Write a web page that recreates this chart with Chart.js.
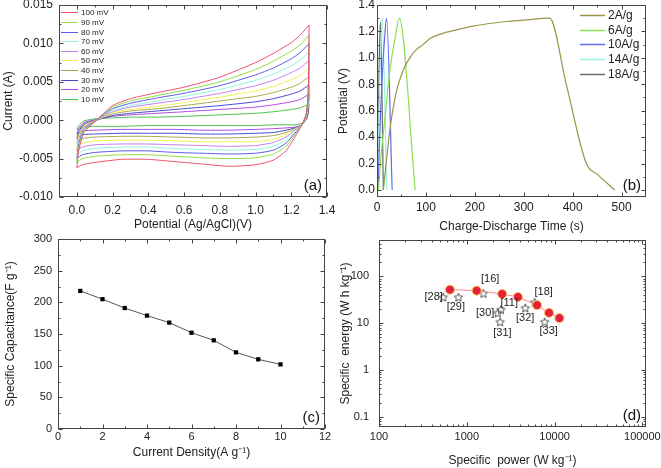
<!DOCTYPE html>
<html>
<head>
<meta charset="utf-8">
<script src="https://cdn.jsdelivr.net/npm/chart.js@4.4.1/dist/chart.umd.min.js"></script>
<style>
html, body { margin: 0; padding: 0; background: #fff; }
#wrap { position: relative; width: 661px; height: 468px; overflow: hidden; }
canvas { position: absolute; }
</style>
</head>
<body>
<div id="wrap">
  <canvas id="cvChart" width="340" height="234" style="left:0;top:0"></canvas>
  <canvas id="gcdChart" width="331" height="234" style="left:330px;top:0"></canvas>
  <canvas id="capChart" width="340" height="234" style="left:0;top:234px"></canvas>
  <canvas id="ragoneChart" width="331" height="234" style="left:330px;top:234px"></canvas>
</div>
<script>
// ---- (a) cyclic voltammetry ----
const SCAN_RATES = ['100 mV', '90 mV', '80 mV', '70 mV', '60 mV', '50 mV', '40 mV', '30 mV', '20 mV', '10 mV'];
const SCAN_COLORS = ['#f0506e', '#8fe040', '#5a5ae6', '#8ff5e0', '#c47cf0', '#f2f050', '#a8a848', '#4848d0', '#b048e0', '#48c048'];
const CV_UP_V = [0, 0.01, 0.04, 0.11, 0.2, 0.3, 0.45, 0.6, 0.8, 1.0, 1.1, 1.2, 1.25, 1.3];
const CV_DOWN_V = [1.3, 1.295, 1.285, 1.26, 1.22, 1.17, 1.1, 1.0, 0.85, 0.7, 0.55, 0.4, 0.25, 0.1, 0.03, 0];
const CV_UP = [
  [-0.0062, -0.0040, -0.0016, 0.0000, 0.0019, 0.0028, 0.0036, 0.0043, 0.0056, 0.0075, 0.0087, 0.0101, 0.0111, 0.0124],
  [-0.0055, -0.0036, -0.0014, 0.0000, 0.0017, 0.0025, 0.0032, 0.0039, 0.0050, 0.0066, 0.0077, 0.0090, 0.0098, 0.0111],
  [-0.0050, -0.0032, -0.0012, 0.0000, 0.0015, 0.0022, 0.0029, 0.0035, 0.0045, 0.0059, 0.0068, 0.0080, 0.0088, 0.0100],
  [-0.0045, -0.0029, -0.0011, 0.0000, 0.0013, 0.0019, 0.0025, 0.0031, 0.0040, 0.0052, 0.0060, 0.0071, 0.0078, 0.0089],
  [-0.0040, -0.0026, -0.0009, 0.0000, 0.0011, 0.0017, 0.0022, 0.0027, 0.0035, 0.0045, 0.0052, 0.0062, 0.0068, 0.0078],
  [-0.0034, -0.0022, -0.0008, 0.0000, 0.0010, 0.0014, 0.0018, 0.0023, 0.0030, 0.0038, 0.0044, 0.0053, 0.0058, 0.0068],
  [-0.0029, -0.0019, -0.0006, 0.0000, 0.0008, 0.0012, 0.0015, 0.0019, 0.0025, 0.0031, 0.0036, 0.0043, 0.0048, 0.0057],
  [-0.0024, -0.0015, -0.0005, 0.0000, 0.0006, 0.0009, 0.0012, 0.0015, 0.0019, 0.0024, 0.0028, 0.0034, 0.0038, 0.0046],
  [-0.0018, -0.0011, -0.0003, 0.0001, 0.0005, 0.0007, 0.0009, 0.0011, 0.0014, 0.0017, 0.0020, 0.0024, 0.0027, 0.0034],
  [-0.0012, -0.0007, -0.0001, 0.0002, 0.0003, 0.0004, 0.0004, 0.0005, 0.0007, 0.0009, 0.0011, 0.0014, 0.0016, 0.0021]
];
const CV_DOWN = [
  [0.0124, 0.0040, 0.0010, -0.0006, -0.0022, -0.0040, -0.0052, -0.0058, -0.0060, -0.0057, -0.0054, -0.0051, -0.0051, -0.0055, -0.0058, -0.0062],
  [0.0111, 0.0036, 0.0009, -0.0006, -0.0019, -0.0034, -0.0044, -0.0049, -0.0050, -0.0049, -0.0047, -0.0045, -0.0045, -0.0047, -0.0050, -0.0055],
  [0.0100, 0.0032, 0.0008, -0.0006, -0.0017, -0.0030, -0.0039, -0.0043, -0.0044, -0.0043, -0.0042, -0.0040, -0.0040, -0.0042, -0.0045, -0.0050],
  [0.0089, 0.0029, 0.0007, -0.0006, -0.0015, -0.0026, -0.0034, -0.0038, -0.0039, -0.0038, -0.0037, -0.0035, -0.0035, -0.0037, -0.0040, -0.0045],
  [0.0078, 0.0026, 0.0006, -0.0006, -0.0013, -0.0022, -0.0029, -0.0033, -0.0034, -0.0033, -0.0032, -0.0031, -0.0031, -0.0032, -0.0035, -0.0040],
  [0.0068, 0.0022, 0.0005, -0.0006, -0.0012, -0.0019, -0.0025, -0.0028, -0.0028, -0.0028, -0.0027, -0.0026, -0.0026, -0.0027, -0.0030, -0.0034],
  [0.0057, 0.0019, 0.0004, -0.0006, -0.0011, -0.0016, -0.0020, -0.0022, -0.0023, -0.0023, -0.0022, -0.0021, -0.0021, -0.0022, -0.0024, -0.0029],
  [0.0046, 0.0015, 0.0003, -0.0006, -0.0010, -0.0013, -0.0016, -0.0017, -0.0018, -0.0018, -0.0017, -0.0017, -0.0017, -0.0018, -0.0019, -0.0024],
  [0.0034, 0.0011, 0.0002, -0.0006, -0.0009, -0.0010, -0.0011, -0.0012, -0.0013, -0.0013, -0.0012, -0.0012, -0.0012, -0.0013, -0.0014, -0.0018],
  [0.0021, 0.0008, 0.0001, -0.0004, -0.0006, -0.0006, -0.0006, -0.0007, -0.0007, -0.0007, -0.0007, -0.0007, -0.0008, -0.0008, -0.0009, -0.0012]
];
const CV_X_TICKS = [0, 0.2, 0.4, 0.6, 0.8, 1.0, 1.2, 1.4];
const CV_Y_TICKS = [-0.010, -0.005, 0.000, 0.005, 0.010, 0.015];

// ---- (b) charge-discharge ----
const GCD_NAMES = ['2A/g', '6A/g', '10A/g', '14A/g', '18A/g'];
const GCD_COLORS = ['#9c9648', '#8ce050', '#6a6af0', '#98f2e4', '#6a6a6a'];
const GCD_T = [
  [13, 20, 28, 35, 42, 55, 67, 80, 94, 110, 130, 160, 196, 230, 264, 300, 353, 387, 428, 450, 486],
  [3, 8, 15, 23, 30, 37, 45.5, 78],
  [2, 5, 8, 12, 16, 19.5, 31],
  [1, 3, 5, 7.5, 10.5, 20],
  [0.5, 2, 3.5, 5, 7, 13]
];
const GCD_V = [
  [0, 0.25, 0.5, 0.66, 0.78, 0.92, 1.0, 1.06, 1.1, 1.15, 1.18, 1.21, 1.24, 1.26, 1.275, 1.285, 1.3, 0.8, 0.2, 0.12, 0],
  [0, 0.25, 0.5, 0.8, 1.0, 1.15, 1.3, 0],
  [0, 0.35, 0.65, 0.95, 1.17, 1.3, 0],
  [0, 0.4, 0.75, 1.05, 1.3, 0],
  [0, 0.4, 0.75, 1.05, 1.27, 0]
];
const GCD_X_TICKS = [0, 100, 200, 300, 400, 500];
const GCD_Y_TICKS = [0, 0.2, 0.4, 0.6, 0.8, 1.0, 1.2, 1.4];

// ---- (c) specific capacitance ----
const CD_DENSITY = [1, 2, 3, 4, 5, 6, 7, 8, 9, 10];
const CD_CAPACITANCE = [218, 205, 191, 179, 168, 152, 140, 121, 110, 102];
const CD_X_TICKS = [0, 2, 4, 6, 8, 10, 12];
const CD_Y_TICKS = [0, 50, 100, 150, 200, 250, 300];

// ---- (d) Ragone plot ----
const THIS_POWER = [643, 1297, 2531, 3820, 6310, 8650, 11350];
const THIS_ENERGY = [52, 49.5, 42, 36.3, 24.2, 16.6, 12.8];
const REF_POWER = [540, 802, 1549, 2255, 2455, 2400, 4640, 5930, 7710];
const REF_ENERGY = [36, 36, 43.5, 16.6, 19.5, 10.7, 21.2, 28, 10.7];
const REF_TAGS = ['[28]', '[29]', '[16]', '[30]', '[31]', '[11]', '[32]', '[18]', '[33]'];
const REF_TAG_POWER = [420, 750, 1846, 1620, 2550, 3040, 4630, 7510, 8570];
const REF_TAG_ENERGY = [36.3, 21.9, 87.8, 16.1, 6.2, 27.1, 13.0, 45.7, 6.8];
const RAG_X_TICKS = [100, 1000, 10000, 100000];
const RAG_Y_TICKS = [0.1, 1, 10, 100];

Chart.defaults.font.family = '"Liberation Sans", Arial, sans-serif';
Chart.defaults.color = '#222';
Chart.defaults.animation = false;
Chart.defaults.events = [];
Chart.defaults.plugins.legend.display = false;
Chart.defaults.plugins.tooltip.enabled = false;

// frame, inward ticks, panel letter, inside legend, text tags
const panelDecor = {
  id: 'panelDecor',
  afterDraw(chart, args, opts) {
    const { ctx, chartArea: a } = chart;
    ctx.save();
    ctx.strokeStyle = '#444';
    ctx.lineWidth = 1;
    const L = Math.round(a.left) + 0.5, T = Math.round(a.top) + 0.5;
    const R = Math.round(a.right) - 0.5, B = Math.round(a.bottom) - 0.5;
    ctx.strokeRect(L, T, R - L, B - T);

    const seg = (x1, y1, x2, y2) => { ctx.beginPath(); ctx.moveTo(x1, y1); ctx.lineTo(x2, y2); ctx.stroke(); };
    const mark = (s, v, len) => {
      const p = Math.round(s.getPixelForValue(v)) + 0.5;
      if (s.isHorizontal()) {
        if (p < L - 1 || p > R + 1) return;
        seg(p, B, p, B - len); seg(p, T, p, T + len);
      } else {
        if (p < T - 1 || p > B + 1) return;
        seg(L, p, L + len, p); seg(R, p, R - len, p);
      }
    };
    [chart.scales.x, chart.scales.y].forEach(s => {
      const vals = s.ticks.map(t => t.value);
      vals.forEach(v => mark(s, v, 4));
      if (s.type === 'logarithmic') {
        for (let e = Math.floor(Math.log10(s.min)); e <= Math.ceil(Math.log10(s.max)); e++) {
          for (let m = 2; m <= 9; m++) {
            const v = m * Math.pow(10, e);
            if (v > s.min && v < s.max) mark(s, v, 2);
          }
        }
      } else {
        const step = vals[1] - vals[0];
        for (let v = vals[0] - step / 2; v < s.max; v += step) {
          if (v > s.min) mark(s, v, 2);
        }
      }
    });

    if (opts.letter) {
      ctx.fillStyle = '#111';
      ctx.font = '15px "Liberation Sans", Arial, sans-serif';
      ctx.textAlign = 'right';
      ctx.textBaseline = 'alphabetic';
      ctx.fillText(opts.letter, a.right - 5, a.bottom - 7);
    }

    const lg = opts.legend;
    if (lg) {
      ctx.font = lg.size + 'px "Liberation Sans", Arial, sans-serif';
      ctx.textAlign = 'left';
      ctx.textBaseline = 'middle';
      const x0 = lg.fromRight ? a.right - lg.dx : a.left + lg.dx;
      chart.data.datasets.forEach((d, i) => {
        if (!d.label) return;
        const y = Math.round(a.top + lg.dy + i * lg.row) + 0.5;
        ctx.strokeStyle = d.borderColor;
        ctx.lineWidth = lg.width;
        seg(x0, y, x0 + lg.len, y);
        ctx.fillStyle = '#222';
        ctx.fillText(d.label, x0 + lg.len + lg.gap, y);
      });
    }

    const tg = opts.tags;
    if (tg) {
      ctx.font = '11px "Liberation Sans", Arial, sans-serif';
      ctx.fillStyle = '#222';
      ctx.textAlign = 'center';
      ctx.textBaseline = 'middle';
      tg.text.forEach((t, i) => {
        ctx.fillText(t, chart.scales.x.getPixelForValue(tg.x[i]), chart.scales.y.getPixelForValue(tg.y[i]));
      });
    }
    ctx.restore();
  }
};

function axis(o) {
  return {
    type: o.type || 'linear',
    position: o.position,
    min: o.min,
    max: o.max,
    bounds: 'data',
    grid: { display: false, drawTicks: false },
    border: { display: false },
    ticks: {
      padding: o.pad,
      font: { size: o.font },
      color: '#222',
      autoSkip: false,
      maxRotation: 0,
      callback: o.fmt
    },
    title: { display: true, text: o.title, font: { size: 12 }, color: '#222', padding: o.titlePad },
    afterBuildTicks: s => { s.ticks = o.ticks.map(v => ({ value: v })); },
    afterFit: s => {
      if (s.isHorizontal()) s.height = o.size; else s.width = o.size;
      s.paddingTop = 0; s.paddingBottom = 0; s.paddingLeft = 0; s.paddingRight = 0;
    }
  };
}

function baseOptions(padRight, scales, decor) {
  return {
    responsive: false,
    maintainAspectRatio: false,
    layout: { padding: { left: 0, top: 5, right: padRight, bottom: 0 } },
    scales: scales,
    plugins: { panelDecor: decor }
  };
}

// (a)
new Chart(document.getElementById('cvChart'), {
  type: 'scatter',
  data: {
    datasets: SCAN_RATES.map((name, i) => ({
      label: name,
      data: CV_UP_V.map((v, k) => ({ x: v, y: CV_UP[i][k] }))
        .concat(CV_DOWN_V.map((v, k) => ({ x: v, y: CV_DOWN[i][k] }))),
      showLine: true,
      borderColor: SCAN_COLORS[i],
      borderWidth: 1,
      pointRadius: 0,
      tension: 0.2
    }))
  },
  options: baseOptions(13, {
    x: axis({ position: 'bottom', min: -0.1, max: 1.4, ticks: CV_X_TICKS, fmt: v => v.toFixed(1),
      title: 'Potential (Ag/AgCl)(V)', pad: 6, font: 12, size: 37, titlePad: { top: 0, bottom: 2 } }),
    y: axis({ position: 'left', min: -0.010, max: 0.015, ticks: CV_Y_TICKS, fmt: v => v.toFixed(3),
      title: 'Current (A)', pad: 6, font: 12, size: 59, titlePad: { top: 1, bottom: 0 } })
  }, {
    letter: '(a)',
    legend: { dx: 2, dy: 7.3, row: 9.63, len: 17, gap: 3, size: 8, width: 1 }
  }),
  plugins: [panelDecor]
});

// (b)
new Chart(document.getElementById('gcdChart'), {
  type: 'scatter',
  data: {
    datasets: GCD_NAMES.map((name, i) => ({
      label: name,
      data: GCD_T[i].map((t, k) => ({ x: t, y: GCD_V[i][k] })),
      showLine: true,
      borderColor: GCD_COLORS[i],
      borderWidth: 1.2,
      pointRadius: 0,
      cubicInterpolationMode: 'monotone'
    }))
  },
  options: baseOptions(15, {
    x: axis({ position: 'bottom', min: 0, max: 550, ticks: GCD_X_TICKS, fmt: v => String(v),
      title: 'Charge-Discharge Time (s)', pad: 3, font: 12, size: 37, titlePad: { top: 0, bottom: 0 } }),
    y: axis({ position: 'left', min: -0.053, max: 1.4, ticks: GCD_Y_TICKS, fmt: v => v.toFixed(1),
      title: 'Potential (V)', pad: 2, font: 12, size: 47, titlePad: { top: 6, bottom: 0 } })
  }, {
    letter: '(b)',
    legend: { fromRight: true, dx: 66, dy: 10, row: 14.7, len: 25, gap: 3, size: 12, width: 1.5 }
  }),
  plugins: [panelDecor]
});

// (c)
new Chart(document.getElementById('capChart'), {
  type: 'scatter',
  data: {
    datasets: [{
      data: CD_DENSITY.map((x, k) => ({ x: x, y: CD_CAPACITANCE[k] })),
      showLine: true,
      borderColor: '#555',
      borderWidth: 1,
      pointStyle: 'rect',
      pointRadius: 3,
      pointBackgroundColor: '#000',
      pointBorderColor: '#000',
      pointBorderWidth: 0
    }]
  },
  options: baseOptions(15, {
    x: axis({ position: 'bottom', min: 0, max: 12, ticks: CD_X_TICKS, fmt: v => String(v),
      title: 'Current Density(A g\u207B\u00B9)', pad: 1, font: 11, size: 39, titlePad: { top: 0, bottom: 8 } }),
    y: axis({ position: 'left', min: 0, max: 300, ticks: CD_Y_TICKS, fmt: v => String(v),
      title: 'Specific Capacitance(F g\u207B\u00B9)', pad: 6, font: 11, size: 58, titlePad: { top: 3, bottom: 0 } })
  }, { letter: '(c)' }),
  plugins: [panelDecor]
});

// (d)
function starImage(r) {
  const c = document.createElement('canvas');
  const s = Math.ceil(r * 2 + 3);
  c.width = s; c.height = s;
  const g = c.getContext('2d');
  g.strokeStyle = '#555';
  g.lineWidth = 1;
  g.beginPath();
  for (let i = 0; i < 10; i++) {
    const rr = i % 2 ? r * 0.45 : r;
    const ang = -Math.PI / 2 + i * Math.PI / 5;
    const px = s / 2 + rr * Math.cos(ang), py = s / 2 + 0.5 + rr * Math.sin(ang);
    if (i) g.lineTo(px, py); else g.moveTo(px, py);
  }
  g.closePath();
  g.stroke();
  return c;
}

new Chart(document.getElementById('ragoneChart'), {
  type: 'scatter',
  data: {
    datasets: [{
      data: THIS_POWER.map((p, k) => ({ x: p, y: THIS_ENERGY[k] })),
      showLine: true,
      borderColor: '#f38a98',
      borderWidth: 1,
      pointRadius: 4.5,
      pointBackgroundColor: '#e4203c',
      pointBorderColor: '#f3c24a',
      pointBorderWidth: 1
    }, {
      data: REF_POWER.map((p, k) => ({ x: p, y: REF_ENERGY[k] })),
      showLine: false,
      pointStyle: starImage(4.5),
      pointRadius: 5
    }]
  },
  options: baseOptions(15, {
    x: axis({ type: 'logarithmic', position: 'bottom', min: 100, max: 110000, ticks: RAG_X_TICKS, fmt: v => String(v),
      title: 'Specific  power (W kg\u207B\u00B9)', pad: 3, font: 11, size: 41, titlePad: { top: 0, bottom: 0 } }),
    y: axis({ type: 'logarithmic', position: 'left', min: 0.06, max: 600, ticks: RAG_Y_TICKS, fmt: v => String(v),
      title: 'Specific  energy (W h kg\u207B\u00B9)', pad: 10, font: 11, size: 49, titlePad: { top: 8, bottom: 0 } })
  }, {
    letter: '(d)',
    tags: { text: REF_TAGS, x: REF_TAG_POWER, y: REF_TAG_ENERGY }
  }),
  plugins: [panelDecor]
});
</script>
</body>
</html>
